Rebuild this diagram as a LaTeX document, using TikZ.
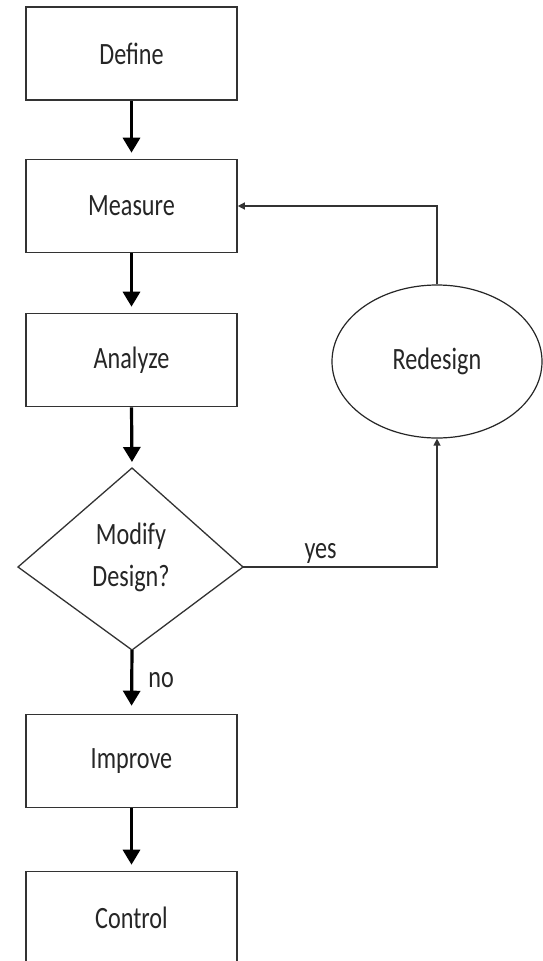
\documentclass[tikz,border=0pt]{standalone}
\usepackage{fontspec}
\setmainfont{Carlito}[FakeStretch=0.78]
\usetikzlibrary{arrows.meta,shapes.geometric}
\tikzset{
  proc/.style={draw=black!80, line width=1.6pt, minimum width=211pt, minimum height=93pt,
    inner sep=0pt, font=\fontsize{31}{37}\selectfont, text=black!85},
  oval/.style={ellipse, draw=black!85, line width=1.2pt, minimum width=210pt, minimum height=153pt,
    inner sep=0pt, font=\fontsize{31}{37}\selectfont, text=black!85},
  lbl/.style={inner sep=0pt, font=\fontsize{31}{37}\selectfont, text=black!85},
  bigarrow/.style={draw=black, line width=3.2pt, -{Triangle[length=15pt,width=17pt]}},
  thinarrow/.style={draw=black!80, line width=1.3pt, -{Triangle[length=7pt,width=7pt]}},
  decline/.style={draw=black!80, line width=1.3pt, line join=miter}
}
\begin{document}
\begin{tikzpicture}[x=1pt,y=-1pt]
\useasboundingbox[fill=white] (0,0) rectangle (542,961);

\node[proc] (define)  at (131.5,53.5) {Define};
\node[proc] (measure) at (131.5,206)  {Measure};
\node[proc] (analyze) at (131.5,360)  {Analyze};
\node[proc] (improve) at (131.5,761)  {Improve};
\node[proc] (control) at (131.5,918)  {Control};

\node[oval] (redesign) at (437,361.5) {Redesign};

% decision diamond
\coordinate (dt) at (132,468);
\coordinate (dl) at (18,567);
\coordinate (dr) at (243,567);
\coordinate (db) at (132,650);
\draw[decline] (dt) -- (dr) -- (db) -- (dl) -- cycle;
\node[lbl, align=center, text width=120pt, font=\fontsize{31}{42}\selectfont] (dtext) at (131,557.5) {Modify\\Design?};

% main flow
\draw[bigarrow, shorten >=6pt] (define) -- (measure);
\draw[bigarrow, shorten >=6pt] (measure) -- (analyze);
\draw[bigarrow, shorten >=6pt] (analyze.south) -- (dt);
\draw[bigarrow, shorten >=8pt] (db) -- (improve.north)
  node[lbl, pos=0.59, anchor=base west, xshift=15pt] (no) {no};
\draw[bigarrow, shorten >=6pt] (improve) -- (control);

% feedback loop
\draw[thinarrow] (dr) -- (dr -| redesign.south)
  node[lbl, pos=0.4, anchor=base, yshift=9pt] (yes) {yes}
  -- (redesign.south);
\draw[thinarrow] (redesign.north) -- (redesign.north |- measure.east) -- (measure.east);
\end{tikzpicture}
\end{document}
